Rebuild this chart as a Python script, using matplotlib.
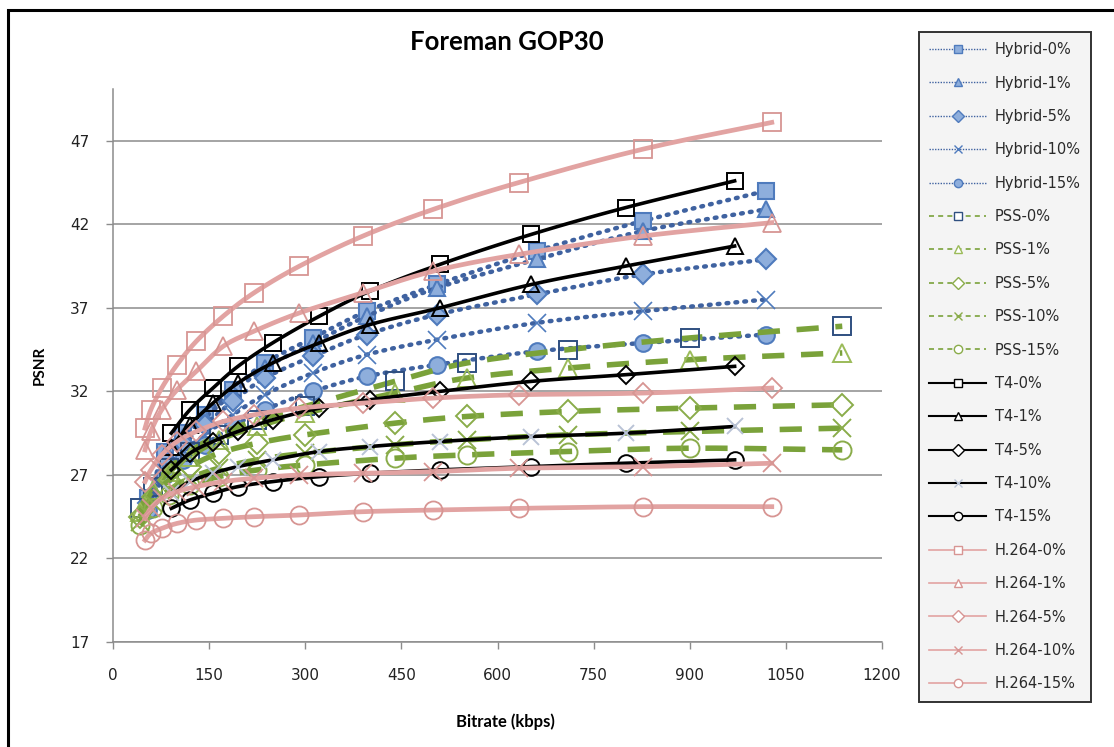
import numpy as np
import matplotlib.pyplot as plt
from matplotlib.lines import Line2D
from matplotlib.patches import Rectangle

# Bitrates (kbps) per codec
h264_rate = [50, 59, 76, 100, 130, 172, 220, 291, 390, 500, 633, 827, 1028]
t4_rate = [91, 120, 156, 195, 249, 322, 401, 510, 653, 800, 970]
hybrid_rate = [55, 81, 110, 143, 187, 237, 312, 396, 506, 661, 827, 1019]
pss_rate = [42, 62, 88, 120, 165, 225, 300, 440, 552, 710, 900, 1138]

# PSNR (dB) per loss rate
hybrid_0 = [25.6, 28.4, 29.5, 30.6, 32.1, 33.7, 35.2, 36.8, 38.4, 40.4, 42.2, 44.0]
hybrid_1 = [25.5, 28.2, 29.3, 30.4, 31.9, 33.4, 34.9, 36.5, 38.2, 39.9, 41.6, 42.9]
hybrid_5 = [25.3, 27.8, 28.9, 30.0, 31.4, 32.8, 34.1, 35.4, 36.6, 37.8, 39.0, 39.9]
hybrid_10 = [25.1, 27.4, 28.4, 29.4, 30.6, 31.8, 33.1, 34.2, 35.1, 36.1, 36.8, 37.5]
hybrid_15 = [24.9, 27.0, 27.9, 28.8, 29.9, 30.9, 32.0, 32.9, 33.6, 34.4, 34.9, 35.4]

pss_0 = [25.0, 26.3, 27.4, 28.4, 29.4, 30.3, 31.1, 32.6, 33.7, 34.5, 35.2, 35.9]
pss_1 = [24.8, 26.1, 27.2, 28.1, 29.1, 29.9, 30.7, 31.9, 32.8, 33.4, 33.9, 34.3]
pss_5 = [24.5, 25.7, 26.7, 27.5, 28.3, 28.9, 29.4, 30.1, 30.5, 30.8, 31.0, 31.2]
pss_10 = [24.2, 25.3, 26.1, 26.8, 27.4, 27.9, 28.3, 28.8, 29.1, 29.4, 29.6, 29.8]
pss_15 = [24.0, 25.0, 25.8, 26.4, 26.9, 27.3, 27.6, 28.0, 28.2, 28.4, 28.6, 28.5]

t4_0 = [29.5, 30.9, 32.2, 33.5, 34.9, 36.5, 38.0, 39.6, 41.4, 43.0, 44.6]
t4_1 = [28.7, 30.0, 31.3, 32.5, 33.7, 34.9, 36.0, 37.0, 38.4, 39.5, 40.7]
t4_5 = [27.3, 28.3, 29.0, 29.6, 30.3, 31.0, 31.5, 32.0, 32.6, 33.0, 33.5]
t4_10 = [25.9, 26.6, 27.1, 27.5, 27.9, 28.4, 28.7, 29.0, 29.3, 29.5, 29.9]
t4_15 = [25.0, 25.5, 25.9, 26.3, 26.6, 26.9, 27.1, 27.3, 27.5, 27.7, 27.9]

h264_0 = [29.8, 30.9, 32.2, 33.6, 35.0, 36.5, 37.9, 39.5, 41.3, 42.9, 44.5, 46.5, 48.1]
h264_1 = [28.5, 29.6, 30.9, 32.1, 33.2, 34.7, 35.6, 36.7, 37.9, 39.2, 40.2, 41.3, 42.1]
h264_5 = [26.6, 27.3, 28.2, 29.0, 29.6, 30.2, 30.6, 31.0, 31.3, 31.6, 31.8, 31.9, 32.2]
h264_10 = [24.4, 25.0, 25.6, 26.0, 26.3, 26.6, 26.8, 27.0, 27.1, 27.2, 27.4, 27.5, 27.7]
h264_15 = [23.1, 23.5, 23.8, 24.1, 24.3, 24.4, 24.5, 24.6, 24.8, 24.9, 25.0, 25.1, 25.1]

losses = ['0%', '1%', '5%', '10%', '15%']
markers = ['s', '^', 'D', 'x', 'o']


def smooth(x, y, n=12):
    # cardinal spline through the points, like a smoothed spreadsheet line
    x = np.asarray(x, float)
    y = np.asarray(y, float)
    px = np.concatenate([[2 * x[0] - x[1]], x, [2 * x[-1] - x[-2]]])
    py = np.concatenate([[2 * y[0] - y[1]], y, [2 * y[-1] - y[-2]]])
    t = np.linspace(0, 1, n)[:, None]
    xs, ys = [], []
    for i in range(1, len(px) - 2):
        for p, out in ((px, xs), (py, ys)):
            p0, p1, p2, p3 = p[i - 1], p[i], p[i + 1], p[i + 2]
            c1 = p1 + (p2 - p0) / 6
            c2 = p2 - (p3 - p1) / 6
            seg = ((1 - t) ** 3 * p1 + 3 * (1 - t) ** 2 * t * c1
                   + 3 * (1 - t) * t ** 2 * c2 + t ** 3 * p2)
            out.append(seg.ravel())
    return np.concatenate(xs), np.concatenate(ys)


fig = plt.figure(figsize=(11.14, 7.47), dpi=100)
fig.add_artist(Rectangle((8 / 1114, -0.01), 1.2, 1 - 10 / 747 + 0.01,
                         transform=fig.transFigure, fill=False,
                         edgecolor='black', linewidth=2.2))
ax = fig.add_axes([113 / 1114, 1 - 642 / 747, 769 / 1114, 553 / 747])

hyb_line = '#3f62a0'
hyb_face = '#8eaedc'
hyb_edge = '#4f7bbd'
pss_line = '#7aa23a'
pss_edges = ['#2f4f80', '#9bbb59', '#8aac4a', '#8aac4a', '#8aac4a']
pink = '#e2a3a2'
pink_edge = '#d79593'

handles = []

for loss, m, ys in zip(losses, markers, [hybrid_0, hybrid_1, hybrid_5, hybrid_10, hybrid_15]):
    sx, sy = smooth(hybrid_rate, ys)
    ax.plot(sx, sy, color=hyb_line, lw=3.2, linestyle=(0, (0.4, 1.6)),
            dash_capstyle='round', zorder=2)
    ms = 12 if m != 'x' else 13
    ax.plot(hybrid_rate, ys, linestyle='none', marker=m, ms=ms if m != 'D' else 10,
            mfc=hyb_face, mec=hyb_edge, mew=1.5 if m != 'x' else 1.2, zorder=2)
    handles.append(Line2D([], [], color=hyb_line, lw=1, linestyle=(0, (1, 1)),
                          marker=m, ms=6, mfc=hyb_face, mec=hyb_edge,
                          label='Hybrid-' + loss))

for loss, m, ys, ec in zip(losses, markers, [pss_0, pss_1, pss_5, pss_10, pss_15], pss_edges):
    sx, sy = smooth(pss_rate, ys)
    ax.plot(sx, sy, color=pss_line, lw=4, linestyle=(0, (4, 3)), zorder=3)
    ax.plot(pss_rate, ys, linestyle='none', marker=m,
            ms=13 if m != 'D' else 11, mfc='none', mec=ec, mew=1.4, zorder=3)
    handles.append(Line2D([], [], color=pss_line, lw=1.2, linestyle=(0, (3, 2.5)),
                          marker=m, ms=6, mfc='white', mec=ec,
                          label='PSS-' + loss))

for loss, m, ys in zip(losses, markers, [t4_0, t4_1, t4_5, t4_10, t4_15]):
    sx, sy = smooth(t4_rate, ys)
    ax.plot(sx, sy, color='black', lw=2.6, zorder=4)
    ec = '#b9c3d6' if m == 'x' else 'black'
    ax.plot(t4_rate, ys, linestyle='none', marker=m, ms=12 if m != 'D' else 9,
            mfc='none', mec=ec, mew=1.4, zorder=4)
    handles.append(Line2D([], [], color='black', lw=1.5, marker=m, ms=6,
                          mfc='white', mec=ec, label='T4-' + loss))

for loss, m, ys in zip(losses, markers, [h264_0, h264_1, h264_5, h264_10, h264_15]):
    sx, sy = smooth(h264_rate, ys)
    ax.plot(sx, sy, color=pink, lw=3.4, zorder=5)
    ax.plot(h264_rate, ys, linestyle='none', marker=m, ms=13 if m != 'D' else 10,
            mfc='none', mec=pink_edge, mew=1.3, zorder=5)
    handles.append(Line2D([], [], color=pink, lw=1.2, marker=m, ms=6,
                          mfc='white', mec=pink_edge, label='H.264-' + loss))

ax.set_xlim(0, 1200)
ax.set_ylim(17, 50.1)
ax.set_xticks(np.arange(0, 1201, 150))
ax.set_yticks(np.arange(17, 48, 5))
ax.yaxis.grid(True, color='#8c8c8c', linewidth=1.1)
ax.set_axisbelow(True)
for side in ['top', 'right']:
    ax.spines[side].set_visible(False)
for side in ['left', 'bottom']:
    ax.spines[side].set_color('#8c8c8c')
    ax.spines[side].set_linewidth(1.1)
ax.tick_params(axis='both', colors='#8c8c8c', labelcolor='#222222',
               labelsize=11, length=5, width=1)
ax.tick_params(axis='x', pad=14)
ax.tick_params(axis='y', pad=12)

fig.text(507 / 1114, 1 - 42 / 747, 'Foreman GOP30', ha='center', va='center',
         fontsize=18.5, fontweight='bold', family='Lato')
fig.text(40 / 1114, 1 - 365 / 747, 'PSNR', ha='center', va='center',
         rotation=90, fontsize=11, fontweight='bold', family='Lato')
fig.text(505 / 1114, 1 - 722 / 747, 'Bitrate (kbps)', ha='center', va='center',
         fontsize=12, fontweight='bold', family='Lato')

leg = fig.legend(handles=handles, loc='upper left',
                 bbox_to_anchor=(919 / 1114, 1 - 32 / 747),
                 fontsize=10.5, labelspacing=1.26, handlelength=3.9,
                 handletextpad=0.6, borderpad=0.7, fancybox=False,
                 frameon=True, borderaxespad=0)
leg.get_frame().set_facecolor('#f2f2f2')
leg.get_frame().set_edgecolor('black')
leg.get_frame().set_linewidth(1.4)
for t in leg.get_texts():
    t.set_color('#2a2a2a')

fig.savefig('out.png', dpi=100)
